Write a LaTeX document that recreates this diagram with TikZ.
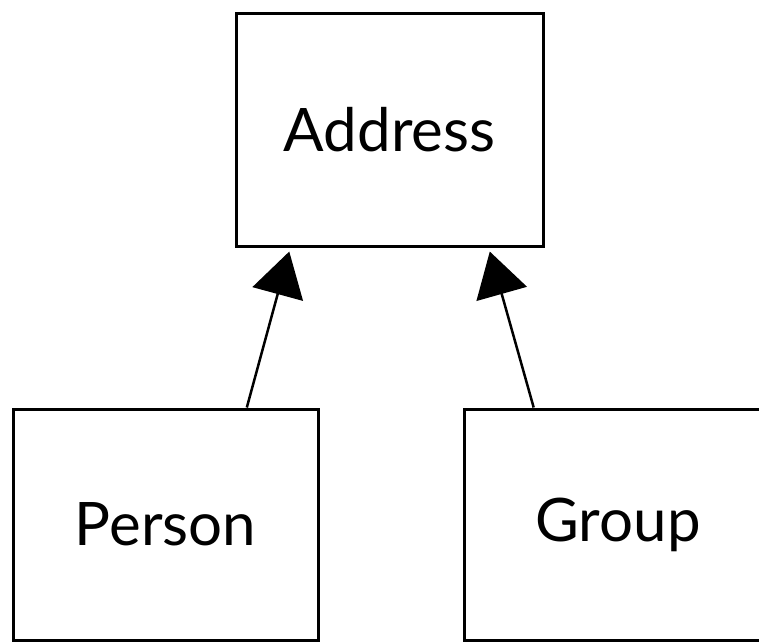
\documentclass[tikz,border=0pt]{standalone}
\usepackage{fontspec}
\setmainfont{Lato}
\usetikzlibrary{arrows.meta,calc}
\begin{document}
\begin{tikzpicture}[x=1pt,y=-1pt,
  classbox/.style={draw=black, line width=3pt, fill=white, rectangle,
    minimum width=307pt, minimum height=233pt, inner sep=0pt,
    font=\fontsize{60}{72}\selectfont},
  inherit/.style={draw=black, line width=2.5pt, shorten >=4pt,
    -{Triangle[length=44pt,width=52pt]}}]
  \useasboundingbox (0,0) rectangle (759,641);
  \clip (0,0) rectangle (759,641);
  \fill[white] (0,0) rectangle (759,641);

  \node[classbox] (address) at (389.5,129.7) {Address};
  \node[classbox, minimum width=305pt, minimum height=231pt] (person) at (165.5,524.5) {Person};
  \node[classbox, minimum height=231pt] (group) at (618,524.5) {Group};

  \draw[inherit] ($(person.north west)!0.764!(person.north east)$)
    -- ($(address.south west)!0.18!(address.south east)$);
  \draw[inherit] ($(group.north west)!0.228!(group.north east)$)
    -- ($(address.south west)!0.82!(address.south east)$);
\end{tikzpicture}
\end{document}
